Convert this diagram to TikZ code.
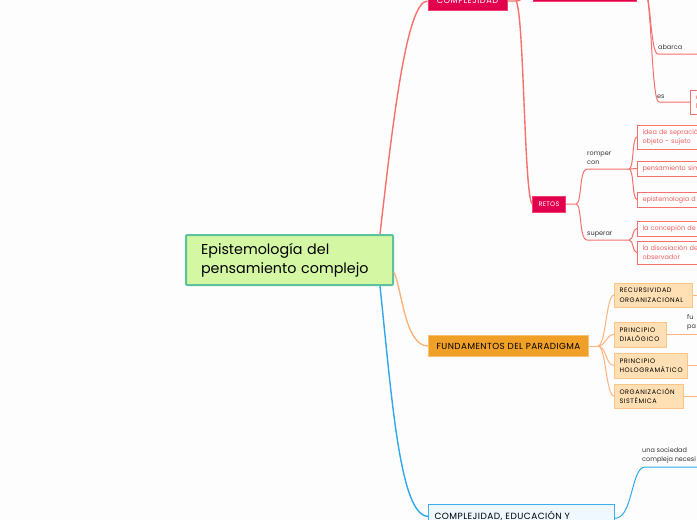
\documentclass[tikz,border=0pt]{standalone}
\usepackage{fontspec}
\setmainfont{Poppins}
\definecolor{bg}{HTML}{FDFDFD}
\definecolor{crimson}{HTML}{E2004E}
\definecolor{crimsonb}{HTML}{F2416F}
\definecolor{redline}{HTML}{F7706C}
\definecolor{redtext}{HTML}{F05D5D}
\definecolor{rootfill}{HTML}{D4F7A4}
\definecolor{rootb}{HTML}{5CC39C}
\definecolor{orline}{HTML}{FFB37C}
\definecolor{orfill}{HTML}{F0A026}
\definecolor{orb}{HTML}{F8C070}
\definecolor{peach}{HTML}{FFE0B4}
\definecolor{peachb}{HTML}{FFC486}
\definecolor{blueline}{HTML}{2EA8EE}
\definecolor{bluefill}{HTML}{EFF8FF}
\definecolor{blueb}{HTML}{3DAEEF}
\definecolor{labeltext}{HTML}{333333}
\begin{document}
\begin{tikzpicture}[x=1pt,y=-1pt,
  rootbox/.style={draw=rootb, line width=2pt, fill=rootfill, rounded corners=1pt, text width=177pt, inner xsep=15pt, inner ysep=0pt, minimum height=50pt, align=left, font=\fontsize{14.3}{19}\selectfont, anchor=west},
  crimsonbox/.style={draw=crimsonb, fill=crimson, text=white, line width=1pt, font=\fontsize{8.3}{10}\selectfont\addfontfeature{LetterSpace=6}, inner sep=0pt},
  redbox/.style={draw=redline, line width=1pt, fill=white, text=redtext, font=\fontsize{6.5}{9}\selectfont, align=left, anchor=west, inner xsep=5pt, inner ysep=0pt, text width=80pt},
  orbox/.style={draw=orb, line width=1pt, fill=orfill, text=black, font=\fontsize{8.8}{10}\selectfont\addfontfeature{LetterSpace=5}, inner sep=0pt, anchor=west},
  peachbox/.style={draw=peachb, line width=1pt, fill=peach, text=black, font=\fontsize{6.5}{9.5}\selectfont\addfontfeature{LetterSpace=9}, align=left, anchor=west, inner xsep=5pt, inner ysep=0pt},
  bluebox/.style={draw=blueb, fill=bluefill, line width=1pt, text width=174pt, inner xsep=6pt, inner ysep=7pt, align=left, font=\fontsize{9}{11}\selectfont\addfontfeature{LetterSpace=5}, anchor=north west},
  lbl/.style={font=\fontsize{6.5}{9}\selectfont, text=labeltext, inner sep=1pt, align=left, anchor=south west},
  redconn/.style={draw=redline, line width=1.4pt},
  redsub/.style={draw=redline, line width=1pt},
  orconn/.style={draw=orline, line width=1.4pt},
  orsub/.style={draw=orline, line width=1pt},
  blueconn/.style={draw=blueline, line width=1.4pt},
  bluesub/.style={draw=blueline, line width=1pt}
]
\fill[bg] (0,0) rectangle (697,520);
\useasboundingbox (0,0) rectangle (697,520);
\clip (0,0) rectangle (697,520);

% nodes
\node[rootbox] (root) at (185,260) {Epistemología del\\pensamiento complejo};
\node[crimsonbox, minimum width=79pt, minimum height=18pt] (compl) at (467.5,1) {COMPLEJIDAD};
\node[crimsonbox, minimum width=103pt, minimum height=24pt] (topbox) at (584.5,-11) {};
\node[crimsonbox, minimum width=33pt, minimum height=16pt, font=\fontsize{6.5}{8}\selectfont\addfontfeature{LetterSpace=4}] (retos) at (549,204) {RETOS};

\node[redbox, minimum height=24pt] (idea) at (637,137) {idea de sepración\\objeto - sujeto};
\node[redbox, minimum height=15pt] (pens) at (637,168.5) {pensamiento sim};
\node[redbox, minimum height=15pt] (epis) at (637,199.5) {epistemologia d};
\node[redbox, minimum height=15pt] (conc) at (637,228.5) {la concepión de};
\node[redbox, minimum height=23pt] (diso) at (637,252.5) {la disosiación de\\observador};
\node[redbox, minimum height=24pt] (ebox) at (690,102) {e\\l};

\node[orbox, minimum width=160pt, minimum height=21pt] (fund) at (428,346) {FUNDAMENTOS DEL PARADIGMA};
\node[peachbox, text width=68pt, minimum height=24pt] (recur) at (614,295) {RECURSIVIDAD\\ORGANIZACIONAL};
\node[peachbox, text width=42pt, minimum height=25pt] (dial) at (614,334.5) {PRINCIPIO\\DIALÓGICO};
\node[peachbox, text width=63pt, minimum height=25pt] (holo) at (614,365.5) {PRINCIPIO\\HOLOGRAMÁTICO};
\node[peachbox, text width=59pt, minimum height=24pt] (sist) at (614,396) {ORGANIZACIÓN\\SISTÉMICA};

\node[bluebox] (edu) at (428,504) {COMPLEJIDAD, EDUCACIÓN Y};

\node[lbl] (abarca) at (657,51) {abarca};
\node[lbl] (es) at (656,100) {es};
\node[lbl] (romper) at (586,166) {romper\\con};
\node[lbl] (superar) at (586,238) {superar};
\node[lbl] (fu) at (686,331) {fu\\pa};
\node[lbl] (soc) at (641,464) {una sociedad\\compleja necesi};

% coordinates
\coordinate (redge) at (705,0);
\coordinate (cjk) at (516,1);
\coordinate (tb) at (644,-11);
\coordinate (abend) at (705,54);
\coordinate (rk) at (576,204);
\coordinate (rup) at (629,169);
\coordinate (rdn) at (629,240);
\coordinate (fk) at (598,346);
\coordinate (socl) at (645,467);
\coordinate (socend) at (705,467);

% main connectors
\draw[redconn] ([xshift=-14pt]root.north east) .. controls (392,130) and (406,1) .. (compl.west);
\draw[orconn] ([yshift=-12pt]root.east) .. controls (402,290) and (405,346) .. (fund.west);
\draw[blueconn] ([xshift=-14pt]root.south east) .. controls (392,400) and (400,516) .. (edu.west);

% complejidad
\draw[redconn] (compl.east) -- (cjk) .. controls (524,12) and (524,192) .. (retos.west);
\draw[redconn] (cjk) .. controls (525,1) and (526,-11) .. (topbox.west);
\draw[redsub] (topbox.east) -- (tb) .. controls (651,-11) and (650,54) .. (658,54) -- (abend);
\draw[redsub] (tb) .. controls (652,-11) and (651,102) .. (659,102) -- (ebox.west);

% retos
\draw[redsub] (retos.east) -- (rk) .. controls (582,204) and (579,169) .. (587,169) -- (rup);
\draw[redsub] (rk) .. controls (582,204) and (579,240) .. (587,240) -- (rdn);
\foreach \n in {idea,pens,epis} \draw[redsub] (rup) .. controls +(5,0) and +(-5,0) .. (\n.west);
\foreach \n in {conc,diso} \draw[redsub] (rdn) .. controls +(5,0) and +(-5,0) .. (\n.west);

% fundamentos
\draw[orsub] (fund.east) -- (fk);
\foreach \n in {recur,dial,holo,sist} {
  \draw[orsub] (fk) .. controls +(8,0) and +(-8,0) .. (\n.west);
  \draw[orsub] (\n.east) -- (\n.east -| redge);
}

% educacion
\draw[bluesub] ([yshift=-2pt]edu.east) .. controls +(18,0) and +(-14,0) .. (socl) -- (socend);
\end{tikzpicture}
\end{document}
